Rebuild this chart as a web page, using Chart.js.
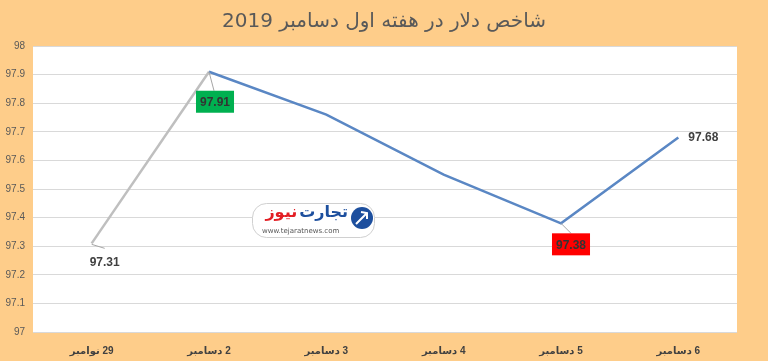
<!DOCTYPE html>
<html>
<head>
<meta charset="utf-8">
<script src="https://cdn.jsdelivr.net/npm/chart.js@4.4.1/dist/chart.umd.min.js"></script>
<style>
  body { margin: 0; background: #fecd8a; }
  canvas { display: block; }
</style>
</head>
<body>
<canvas id="chart1" dir="rtl" width="768" height="361"></canvas>
<script>
// DONNEES DU GRAPHIQUE

const chartTitle = 'شاخص دلار در هفته اول دسامبر 2019';
const days = ['29 نوامبر', '2 دسامبر', '3 دسامبر', '4 دسامبر', '5 دسامبر', '6 دسامبر'];
const dollarIndex = [97.31, 97.91, 97.76, 97.55, 97.38, 97.68];
const yTicks = [97, 97.1, 97.2, 97.3, 97.4, 97.5, 97.6, 97.7, 97.8, 97.9, 98];
const labelledPoints = [0, 1, 4, 5];

// STYLE DES ETIQUETTES (decalage par rapport au point)
const labelStyle = {
  0: { dx: 13, dy: 18, box: null, lead: [0, 1, 13, 5] },
  1: { dx: 6, dy: 30, box: '#00b050', lead: [0, 0, 5, 19] },
  4: { dx: 10, dy: 21, box: '#ff0000', lead: [0, 0, 10, 10] },
  5: { dx: 25, dy: -1, box: null, lead: null }
};

Chart.defaults.font.family = "'Liberation Sans', 'DejaVu Sans', sans-serif";

// fond blanc de la zone du graphique + titre centre sur la page
const whiteArea = {
  id: 'whiteArea',
  beforeDraw(chart) {
    const a = chart.chartArea, ctx = chart.ctx;
    ctx.save();
    ctx.fillStyle = '#ffffff';
    ctx.fillRect(a.left, a.top, a.right - a.left, a.bottom - a.top + 1);
    ctx.fillStyle = '#595959';
    ctx.font = "20px 'DejaVu Sans', sans-serif";
    ctx.textAlign = 'center';
    ctx.textBaseline = 'middle';
    ctx.fillText(chartTitle, chart.width / 2, 22);
    ctx.restore();
  }
};

// logo au milieu
const logo = {
  id: 'logo',
  afterDatasetsDraw(chart) {
    const ctx = chart.ctx;
    ctx.save();
    ctx.fillStyle = '#ffffff';
    ctx.strokeStyle = '#d0d0d0';
    ctx.lineWidth = 1;
    ctx.beginPath();
    ctx.roundRect(252.5, 203.5, 122, 34, 14);
    ctx.fill();
    ctx.stroke();
    ctx.fillStyle = '#1d4f9e';
    ctx.beginPath();
    ctx.arc(362, 218, 11, 0, Math.PI * 2);
    ctx.fill();
    ctx.strokeStyle = '#ffffff';
    ctx.lineWidth = 2;
    ctx.beginPath();
    ctx.moveTo(356, 224);
    ctx.lineTo(367, 213);
    ctx.moveTo(361, 212);
    ctx.lineTo(367, 213);
    ctx.lineTo(367, 219);
    ctx.stroke();
    ctx.textBaseline = 'middle';
    ctx.textAlign = 'right';
    ctx.font = "bold 16px 'DejaVu Sans', sans-serif";
    ctx.fillStyle = '#1d4f9e';
    ctx.fillText('تجارت', 348, 213);
    const w = ctx.measureText('تجارت').width;
    ctx.fillStyle = '#e31e24';
    ctx.fillText('نیوز', 348 - w - 2, 213);
    ctx.font = "7px 'DejaVu Sans', sans-serif";
    ctx.fillStyle = '#555555';
    ctx.textAlign = 'left';
    ctx.fillText('www.tejaratnews.com', 262, 231);
    ctx.restore();
  }
};

// etiquettes des valeurs
const valueLabels = {
  id: 'valueLabels',
  afterDatasetsDraw(chart) {
    const ctx = chart.ctx;
    const meta = chart.getDatasetMeta(0);
    ctx.save();
    ctx.font = "bold 12px 'Liberation Sans', sans-serif";
    ctx.textAlign = 'center';
    ctx.textBaseline = 'middle';
    labelledPoints.forEach(i => {
      const p = meta.data[i];
      const s = labelStyle[i];
      const txt = dollarIndex[i].toFixed(2);
      const x = p.x + s.dx, y = p.y + s.dy;
      if (s.lead) {
        ctx.strokeStyle = '#a6a6a6';
        ctx.lineWidth = 1;
        ctx.beginPath();
        ctx.moveTo(p.x + s.lead[0], p.y + s.lead[1]);
        ctx.lineTo(p.x + s.lead[2], p.y + s.lead[3]);
        ctx.stroke();
      }
      if (s.box) {
        const w = ctx.measureText(txt).width + 8;
        ctx.fillStyle = s.box;
        ctx.fillRect(x - w / 2, y - 11, w, 22);
      }
      ctx.fillStyle = s.box ? '#333333' : '#404040';
      ctx.fillText(txt, x, y + 1);
    });
    ctx.restore();
  }
};

let canvas1 = document.getElementById('chart1');

let myChart1 = new Chart(canvas1, {
  type: 'line',
  data: {
    labels: days,
    datasets: [{
      data: dollarIndex,
      borderWidth: 2.5,
      borderColor: '#5a87c4',
      segment: {
        borderColor: c => c.p0DataIndex === 0 ? '#bfbfbf' : '#5a87c4'
      },
      pointRadius: 0,
      tension: 0,
      fill: false
    }]
  },
  options: {
    responsive: false,
    animation: false,
    layout: { padding: { left: 0, right: 31, top: 46, bottom: 0 } },
    plugins: {
      legend: { display: false },
      tooltip: { enabled: false },
      title: { display: false }
    },
    scales: {
      x: {
        offset: true,
        grid: { display: false },
        border: { display: false },
        ticks: {
          color: '#404040',
          font: { size: 10, weight: 'bold' },
          padding: 5,
          maxRotation: 0
        },
        afterFit: s => { s.height = 29; }
      },
      y: {
        min: 97,
        max: 98,
        afterBuildTicks: s => { s.ticks = yTicks.map(v => ({ value: v })); },
        grid: { color: '#d9d9d9', drawTicks: false },
        border: { display: false },
        ticks: {
          color: '#595959',
          font: { size: 10 },
          padding: 8,
          callback: v => String(v)
        },
        afterFit: s => { s.width = 33; }
      }
    }
  },
  plugins: [whiteArea, logo, valueLabels]
});
</script>
</body>
</html>
